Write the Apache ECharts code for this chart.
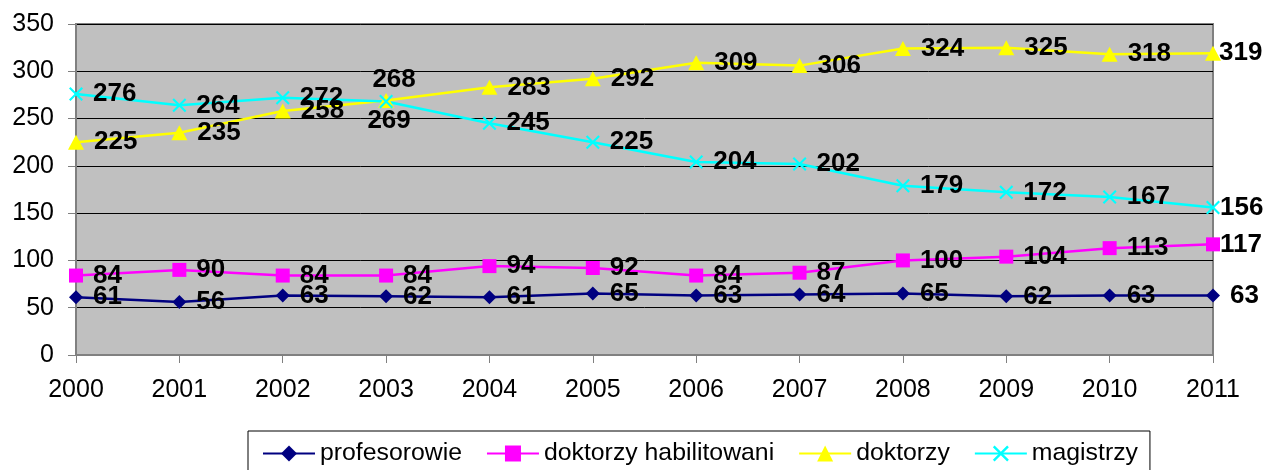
<!DOCTYPE html>
<html>
<head>
<meta charset="utf-8">
<script src="https://cdn.jsdelivr.net/npm/echarts@6/dist/echarts.min.js"></script>
<style>
html,body{margin:0;padding:0;background:#fff;}
#chart{width:1263px;height:470px;}
</style>
</head>
<body>
<div id="chart"></div>
<script>
var years = ['2000','2001','2002','2003','2004','2005','2006','2007','2008','2009','2010','2011'];
var profesorowie = [61, 56, 63, 62, 61, 65, 63, 64, 65, 62, 63, 63];
var habilitowani = [84, 90, 84, 84, 94, 92, 84, 87, 100, 104, 113, 117];
var doktorzy = [225, 235, 258, 269, 283, 292, 309, 306, 324, 325, 318, 319];
var magistrzy = [276, 264, 272, 268, 245, 225, 204, 202, 179, 172, 167, 156];
var yTicks = [0, 50, 100, 150, 200, 250, 300, 350];

var FONT = 'Liberation Sans, Arial, sans-serif';
var xPath = 'path://M0,1.5L1.5,0L7,5.5L12.5,0L14,1.5L8.5,7L14,12.5L12.5,14L7,8.5L1.5,14L0,12.5L5.5,7Z';

function withLabels(values, overrides) {
  return values.map(function (v, i) {
    if (overrides && overrides[i]) return { value: v, label: overrides[i] };
    return v;
  });
}

var baseLabel = {
  show: true, position: 'right', distance: 10,
  color: '#000', fontWeight: 'bold', fontSize: 26, fontFamily: FONT
};

function mkSeries(name, values, color, symbol, size, overrides) {
  return {
    name: name, type: 'line', data: withLabels(values, overrides),
    symbol: symbol, symbolSize: size, showAllSymbol: true,
    lineStyle: { color: color, width: 2.5 },
    itemStyle: { color: color },
    label: baseLabel,
    emphasis: { disabled: true },
    animation: false
  };
}

var last = years.length - 1;
var ovHab = {}; ovHab[last] = { distance: 0 };
var ovDok = {}; ovDok[3] = { position: 'bottom', distance: 0, offset: [3, 0] }; ovDok[last] = { distance: -2 };
var ovMag = {}; ovMag[3] = { position: 'top', distance: 2, offset: [8, 0] }; ovMag[last] = { distance: 0 };

var chart = echarts.init(document.getElementById('chart'), null, { renderer: 'canvas' });
chart.setOption({
  backgroundColor: '#ffffff',
  animation: false,
  grid: {
    left: 76, right: 50, top: 24, bottom: 115,
    show: true, backgroundColor: '#c0c0c0', borderColor: '#808080', borderWidth: 2
  },
  xAxis: {
    type: 'category', data: years, boundaryGap: false,
    axisLine: { show: true, lineStyle: { color: '#808080', width: 2 } },
    axisTick: { show: true, length: 8, lineStyle: { color: '#808080' } },
    axisLabel: { color: '#000', fontSize: 25, fontFamily: FONT, margin: 23 },
    splitLine: { show: false }
  },
  yAxis: {
    type: 'value', min: yTicks[0], max: yTicks[yTicks.length - 1], interval: 50,
    axisLine: { show: true, lineStyle: { color: '#808080', width: 2 } },
    axisTick: { show: true, length: 8, lineStyle: { color: '#808080' } },
    axisLabel: { color: '#000', fontSize: 25, fontFamily: FONT, margin: 22 },
    splitLine: { show: true, lineStyle: { color: '#000', width: 1 } }
  },
  legend: {
    left: 248, top: 431,
    padding: [10, 12, 12, 14],
    borderColor: '#000', borderWidth: 1,
    itemWidth: 52, itemHeight: 20, itemGap: 24,
    textStyle: { color: '#000', fontSize: 24.8, fontFamily: FONT },
    data: ['profesorowie', 'doktorzy habilitowani', 'doktorzy', 'magistrzy']
  },
  series: [
    mkSeries('profesorowie', profesorowie, '#000080', 'diamond', 14, null),
    mkSeries('doktorzy habilitowani', habilitowani, '#ff00ff', 'rect', 14, ovHab),
    mkSeries('doktorzy', doktorzy, '#ffff00', 'triangle', [16, 15], ovDok),
    mkSeries('magistrzy', magistrzy, '#00ffff', xPath, 14, ovMag)
  ]
});
</script>
</body>
</html>
